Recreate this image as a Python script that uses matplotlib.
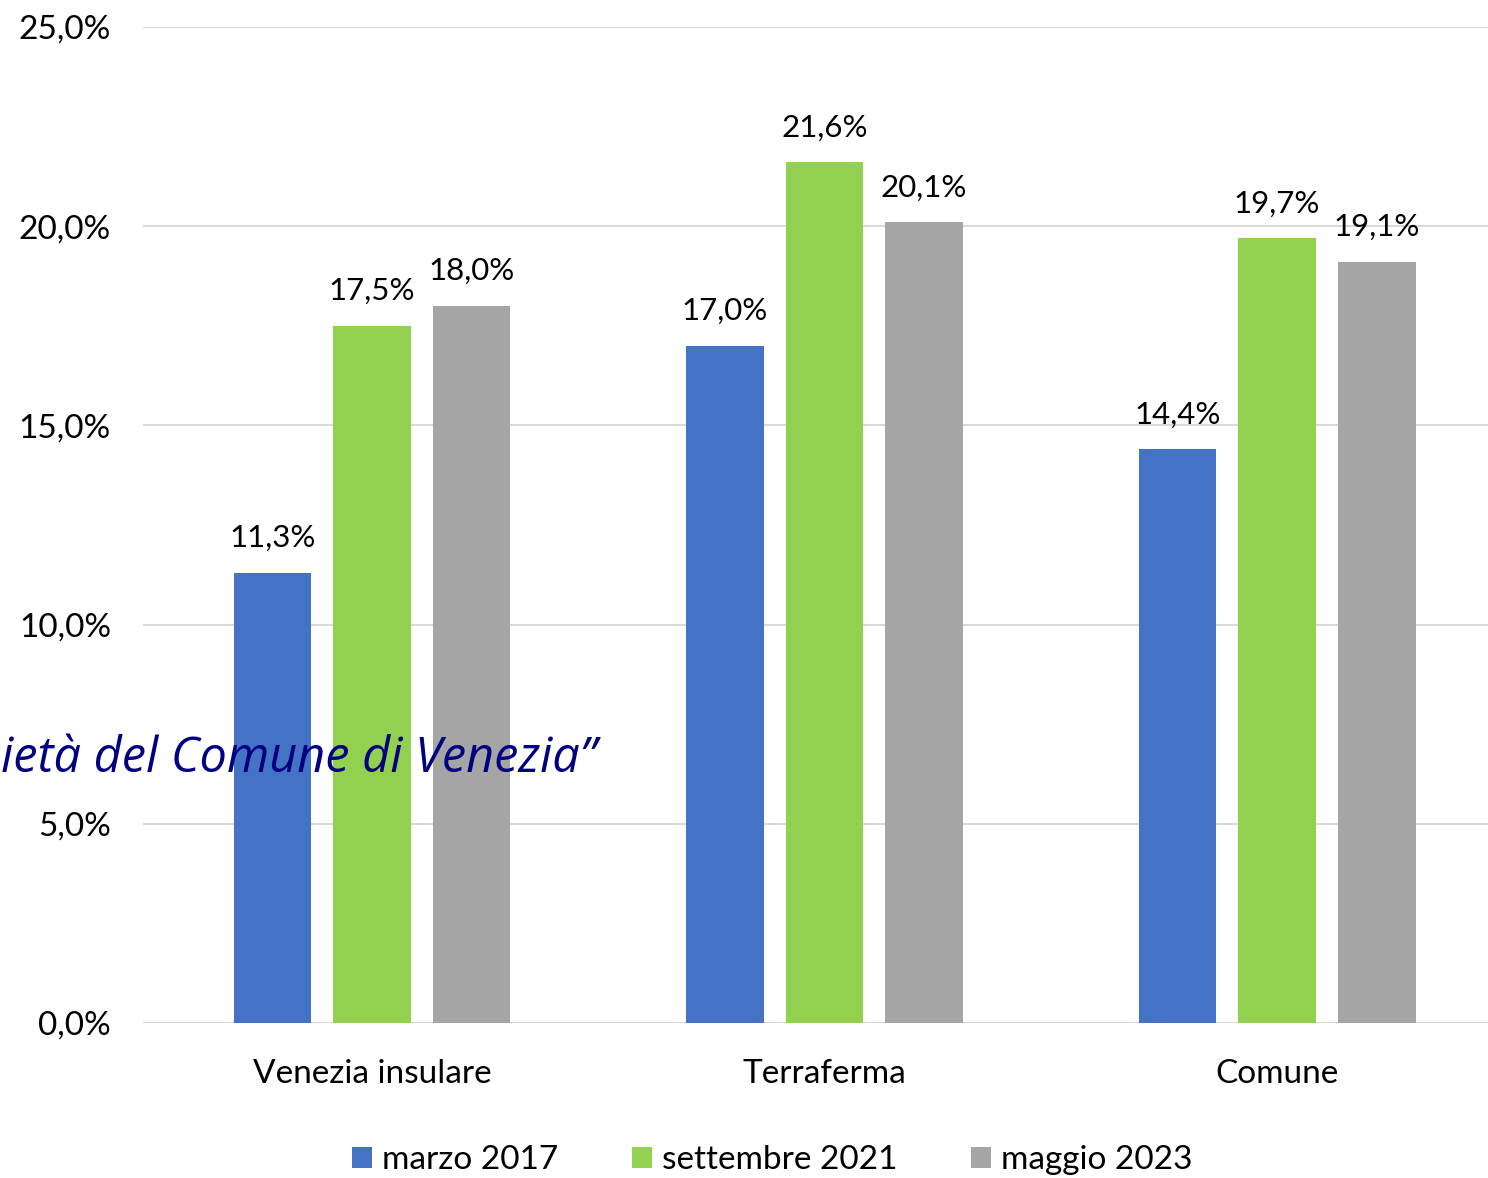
import numpy as np
import matplotlib
matplotlib.use("Agg")
import matplotlib.pyplot as plt

# dati
categorie = ["Venezia insulare", "Terraferma", "Comune"]
serie = ["marzo 2017", "settembre 2021", "maggio 2023"]
marzo_2017 = [11.3, 17.0, 14.4]
settembre_2021 = [17.5, 21.6, 19.7]
maggio_2023 = [18.0, 20.1, 19.1]
colori = ["#4472C4", "#92D050", "#A5A5A5"]
y_ticks = [0, 5, 10, 15, 20, 25]

plt.rcParams['font.family'] = ['Lato', 'DejaVu Sans']

fig = plt.figure(figsize=(14.88, 11.78), dpi=100)
ax = fig.add_axes([0.0961, 0.1316, 0.9039, 0.8455])

x = np.arange(len(categorie))
larghezza = 0.172
passo = 0.22
valori = [marzo_2017, settembre_2021, maggio_2023]

for i, (vals, nome, col) in enumerate(zip(valori, serie, colori)):
    pos = x + (i - 1) * passo
    barre = ax.bar(pos, vals, width=larghezza, color=col, label=nome, zorder=3)
    for b, v in zip(barre, vals):
        ax.annotate(f"{v:.1f}%".replace(".", ","),
                    (b.get_x() + b.get_width() / 2, v),
                    xytext=(0, 15), textcoords="offset points",
                    ha="center", va="bottom", fontsize=22.5, color="#000000")

ax.set_xlim(-0.506, 2.466)
ax.set_ylim(0, 25)
ax.set_yticks(y_ticks)
ax.set_yticklabels([f"{t:.1f}%".replace(".", ",") for t in y_ticks], fontsize=24)
ax.set_xticks(x)
ax.set_xticklabels(categorie, fontsize=24)
ax.tick_params(axis="y", length=0, pad=23)
ax.tick_params(axis="x", length=0, pad=26)
ax.grid(axis="y", color="#D9D9D9", linewidth=1.5, zorder=0)
for s in ax.spines.values():
    s.set_visible(False)

fig.legend(loc="center", bbox_to_anchor=(0.519, 0.0153), ncol=3, frameon=False,
           fontsize=24, handlelength=0.6, handleheight=0.6, handletextpad=0.3,
           columnspacing=2.2)

# testo sovrapposto
fig.text(597 / 1488, 1 - 772 / 1178, "ietà del Comune di Venezia”",
         ha="right", va="baseline", fontsize=35, style="italic",
         color="#000080", family=["Open Sans", "DejaVu Sans"], zorder=10)

fig.savefig("out.png", dpi=100)
